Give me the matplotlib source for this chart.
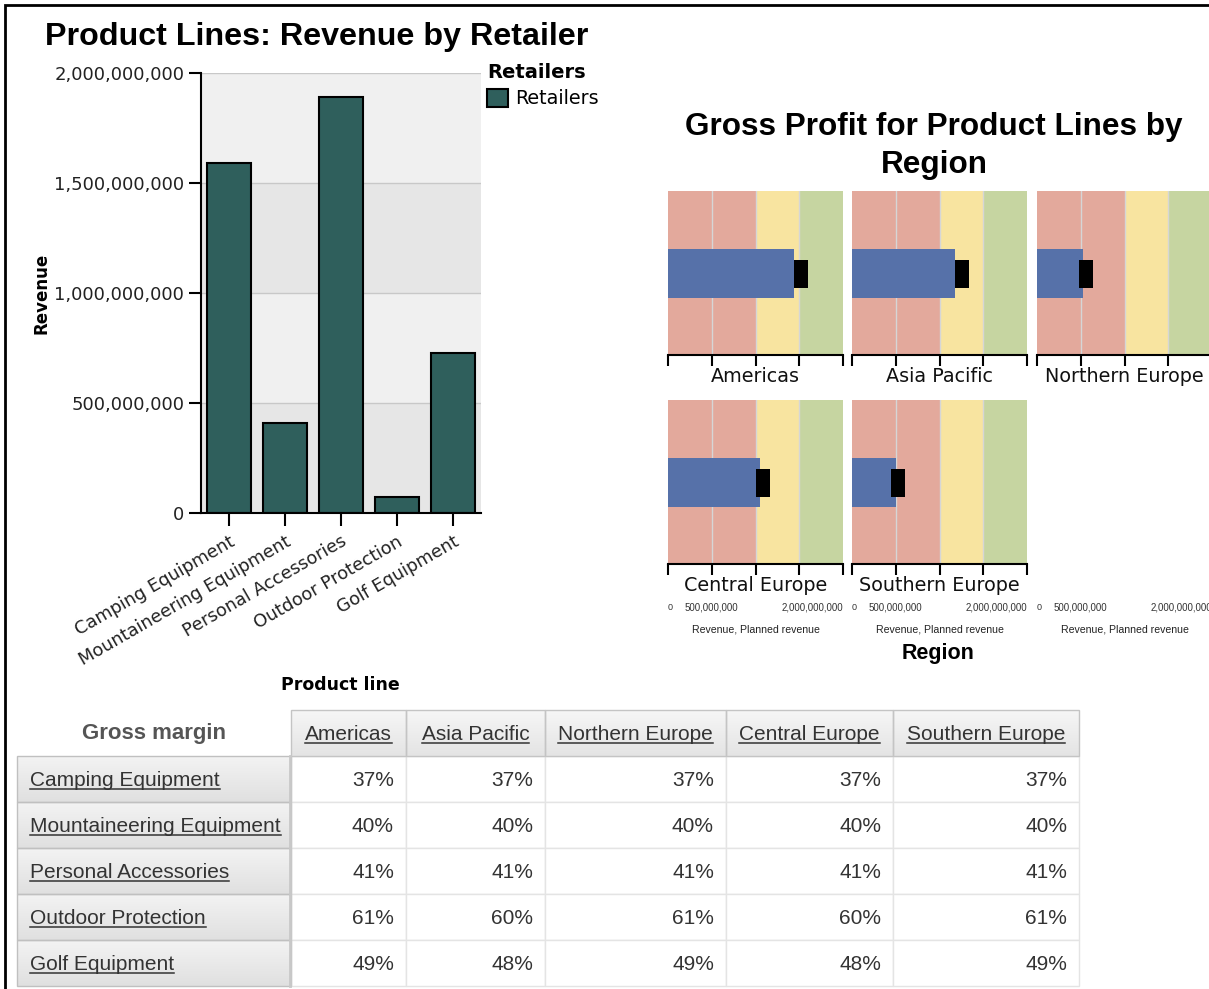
import matplotlib
matplotlib.use("Agg")
import matplotlib.pyplot as plt
import numpy as np
from matplotlib.patches import Rectangle
from matplotlib.lines import Line2D
from matplotlib.colors import LinearSegmentedColormap
from matplotlib.transforms import blended_transform_factory
from matplotlib.ticker import FuncFormatter

W, H = 1209, 989
DPI = 100

# ---------------- data ----------------
product_lines = ["Camping Equipment", "Mountaineering Equipment",
                 "Personal Accessories", "Outdoor Protection", "Golf Equipment"]
revenue = [1.590e9, 0.410e9, 1.891e9, 0.074e9, 0.728e9]
revenue_ticks = [0, 5e8, 1e9, 1.5e9, 2e9]

regions = ["Americas", "Asia Pacific", "Northern Europe",
           "Central Europe", "Southern Europe"]
region_revenue = [1.44e9, 1.18e9, 0.52e9, 1.05e9, 0.50e9]
region_planned = [1.52e9, 1.26e9, 0.56e9, 1.09e9, 0.525e9]
band_edges = [0, 1.0e9, 1.5e9, 2.0e9]
band_colors = ["#E3A99C", "#F8E4A0", "#C6D5A1"]

margin_rows = product_lines
margin_cols = regions
gross_margin = [
    [37, 37, 37, 37, 37],
    [40, 40, 40, 40, 40],
    [41, 41, 41, 41, 41],
    [61, 60, 61, 60, 61],
    [49, 48, 49, 48, 49],
]

# ---------------- styling ----------------
BAR_COLOR = "#2F5F5C"
BULLET_BLUE = "#5671A9"
TITLE_FONT = "Liberation Sans"
TABLE_FONT = "Liberation Sans"
plt.rcParams["font.family"] = "DejaVu Sans"

fig = plt.figure(figsize=(W / DPI, H / DPI), dpi=DPI)
fig.patch.set_facecolor("white")


def px_axes(x0, y0, x1, y1, **kw):
    """Add an axes given its pixel box (top-left origin)."""
    return fig.add_axes([x0 / W, 1 - y1 / H, (x1 - x0) / W, (y1 - y0) / H], **kw)


def fx(x):
    return x / W


def fy(y):
    return 1 - y / H


# overlay axes in pixel coordinates for the frame and the table
ov = fig.add_axes([0, 0, 1, 1])
ov.set_xlim(0, W)
ov.set_ylim(H, 0)
ov.axis("off")

ov.add_line(Line2D([5, 5, W], [H, 5, 5], color="black", lw=2, solid_joinstyle="miter"))

# ---------------- bar chart ----------------
ax = px_axes(201, 73, 481, 513)
ax.set_xlim(-0.5, len(product_lines) - 0.5)
ax.set_ylim(revenue_ticks[0], revenue_ticks[-1])
for i, (lo, hi) in enumerate(zip(revenue_ticks[:-1], revenue_ticks[1:])):
    ax.axhspan(lo, hi, color="#e6e6e6" if i % 2 == 0 else "#f0f0f0", lw=0, zorder=0)
ax.set_axisbelow(True)
ax.yaxis.grid(True, color="#c8c8c8", lw=1)
x = np.arange(len(product_lines))
ax.bar(x, revenue, width=0.8, color=BAR_COLOR, edgecolor="black", lw=1.5, zorder=2)
for s in ("top", "right"):
    ax.spines[s].set_visible(False)
for s in ("left", "bottom"):
    ax.spines[s].set_linewidth(1.5)
    ax.spines[s].set_color("black")
ax.set_yticks(revenue_ticks)
ax.yaxis.set_major_formatter(FuncFormatter(lambda v, p: f"{v:,.0f}"))
ax.set_xticks(x)
ax.set_xticklabels(product_lines, rotation=30, ha="right", va="top",
                   rotation_mode="anchor", fontsize=12.8, color="#222222")
ax.tick_params(axis="y", direction="out", length=9, width=1.5, labelsize=13,
               labelcolor="#222222", pad=3)
ax.tick_params(axis="x", direction="out", length=9, width=1.5, pad=5)

fig.text(fx(317), fy(37), "Product Lines: Revenue by Retailer", ha="center", va="center",
         fontsize=23.2, fontweight="bold", family=TITLE_FONT)
fig.text(fx(42), fy(293), "Revenue", ha="center", va="center", rotation=90,
         fontsize=12, fontweight="bold")
fig.text(fx(340), fy(685), "Product line", ha="center", va="center",
         fontsize=12.5, fontweight="bold")

handles = [Rectangle((0, 0), 1, 1, fc=BAR_COLOR, ec="black", lw=1.5)]
fig.legend(handles, ["Retailers"], title="Retailers", loc="upper left",
           bbox_to_anchor=(fx(487), fy(63)), frameon=False, fontsize=13.8,
           title_fontproperties={"weight": "bold", "size": 14},
           alignment="left", handlelength=1.1, handleheight=1.1,
           handletextpad=0.35, borderpad=0, borderaxespad=0, labelspacing=0.35)

# ---------------- bullet charts ----------------
panel_cols = [(668, 843), (852, 1027), (1037, 1212)]
panel_rows = [(191, 355), (399.5, 563.5)]
marker_w = 0.16e9
col_axes = {}
for i, name in enumerate(regions):
    r, c = divmod(i, 3)
    x0, x1 = panel_cols[c]
    y0, y1 = panel_rows[r]
    bx = px_axes(x0, y0, x1, y1)
    col_axes.setdefault(c, bx)
    bx.set_xlim(revenue_ticks[0], revenue_ticks[-1])
    bx.set_ylim(0, 1)
    for lo, hi, col in zip(band_edges[:-1], band_edges[1:], band_colors):
        bx.axvspan(lo, hi, color=col, lw=0, zorder=0)
    for t in revenue_ticks[1:-1]:
        bx.axvline(t, color="#d6d6d6", lw=1, zorder=0.5)
    bx.barh(0.495, region_revenue[i], height=0.30, left=0, color=BULLET_BLUE, zorder=2)
    bx.barh(0.493, marker_w, left=region_planned[i] - marker_w / 2, height=0.17,
            color="black", zorder=3)
    for s in ("top", "right", "left"):
        bx.spines[s].set_visible(False)
    bx.spines["bottom"].set_linewidth(1.5)
    bx.set_yticks([])
    bx.set_xticks(revenue_ticks)
    bx.set_xticklabels([])
    bx.tick_params(axis="x", direction="out", length=8, width=1.5)
    bx.text(0.5, -22 / 164, name, transform=bx.transAxes, ha="center", va="center",
            fontsize=13.8, color="#111111")

# value scale under each column
for c, bx in col_axes.items():
    tr = blended_transform_factory(bx.transData, fig.transFigure)
    fig.text(revenue_ticks[0], fy(608), "0", transform=tr, ha="left", va="center",
             fontsize=6.5, color="#333333", family=TABLE_FONT)
    fig.text(revenue_ticks[1], fy(608), f"{revenue_ticks[1]:,.0f}", transform=tr,
             ha="center", va="center", fontsize=7, color="#333333", family=TABLE_FONT)
    fig.text(revenue_ticks[-1], fy(608), f"{revenue_ticks[-1]:,.0f}", transform=tr,
             ha="right", va="center", fontsize=7, color="#333333", family=TABLE_FONT)
    fig.text(np.mean(revenue_ticks[::len(revenue_ticks) - 1]), fy(629),
             "Revenue, Planned revenue", transform=tr, ha="center", va="center",
             fontsize=7.6, color="#222222", family=TABLE_FONT)

fig.text(fx(934), fy(127), "Gross Profit for Product Lines by", ha="center", va="center",
         fontsize=22.7, fontweight="bold", family=TITLE_FONT)
fig.text(fx(934), fy(165), "Region", ha="center", va="center",
         fontsize=22.7, fontweight="bold", family=TITLE_FONT)
fig.text(fx(938), fy(653), "Region", ha="center", va="center",
         fontsize=15.5, fontweight="bold", family=TITLE_FONT)

# ---------------- crosstab ----------------
col_edges = [291, 406, 545, 726, 893, 1079]
row_edges = [756, 802, 848, 894, 940, 986]
head_top = 710
rh_left = 17
grad = np.linspace(0, 1, 64).reshape(-1, 1)
head_cmap = LinearSegmentedColormap.from_list("hd", ["#f6f6f6", "#e4e4e4"])
row_cmap = LinearSegmentedColormap.from_list("rw", ["#f3f3f3", "#e0e0e0"])


def grad_cell(x0, y0, x1, y1, cmap, edge):
    ov.imshow(grad, cmap=cmap, extent=(x0, x1, y1, y0), aspect="auto",
              interpolation="bilinear", zorder=1)
    ov.add_patch(Rectangle((x0, y0), x1 - x0, y1 - y0, fill=False, ec=edge, lw=1, zorder=2))


underlined = []
txt_kw = dict(family=TABLE_FONT, fontsize=15, color="#333333", zorder=4)

# column headers
for j, name in enumerate(margin_cols):
    x0, x1 = col_edges[j], col_edges[j + 1]
    grad_cell(x0, head_top, x1, row_edges[0], head_cmap, "#c4c4c4")
    t = ov.text((x0 + x1) / 2, (head_top + row_edges[0]) / 2 + 7.5, name,
                ha="center", va="baseline", **txt_kw)
    underlined.append(t)

ov.text((rh_left + col_edges[0]) / 2, (head_top + row_edges[0]) / 2, "Gross margin",
        ha="center", va="center", family=TABLE_FONT, fontsize=16,
        fontweight="bold", color="#555555", zorder=4)

# row headers and values
for i, name in enumerate(margin_rows):
    y0, y1 = row_edges[i], row_edges[i + 1]
    grad_cell(rh_left, y0, col_edges[0], y1, row_cmap, "#c0c0c0")
    ov.add_line(Line2D([col_edges[0] - 1, col_edges[0] - 1], [y0, y1], color="#c8c8c8",
                       lw=2, zorder=3))
    t = ov.text(rh_left + 13, (y0 + y1) / 2 + 7.5, name, ha="left", va="baseline", **txt_kw)
    underlined.append(t)
    for j in range(len(margin_cols)):
        x0, x1 = col_edges[j], col_edges[j + 1]
        ov.add_patch(Rectangle((x0, y0), x1 - x0, y1 - y0, fc="white", ec="#e4e4e4",
                               lw=1, zorder=1))
        ov.text(x1 - 12, (y0 + y1) / 2 + 7.5, f"{gross_margin[i][j]}%", ha="right",
                va="baseline", **txt_kw)

ov.set_xlim(0, W)
ov.set_ylim(H, 0)

# underline the link-styled labels
fig.canvas.draw()
renderer = fig.canvas.get_renderer()
inv = ov.transData.inverted()
for t in underlined:
    bb = t.get_window_extent(renderer)
    xa, _ = inv.transform((bb.x0, bb.y0))
    xb, _ = inv.transform((bb.x1, bb.y0))
    yb = t.get_position()[1] + 2.5
    ov.add_line(Line2D([xa, xb], [yb, yb], color="#333333", lw=1.1, zorder=5))

fig.savefig("out.png", dpi=DPI)
